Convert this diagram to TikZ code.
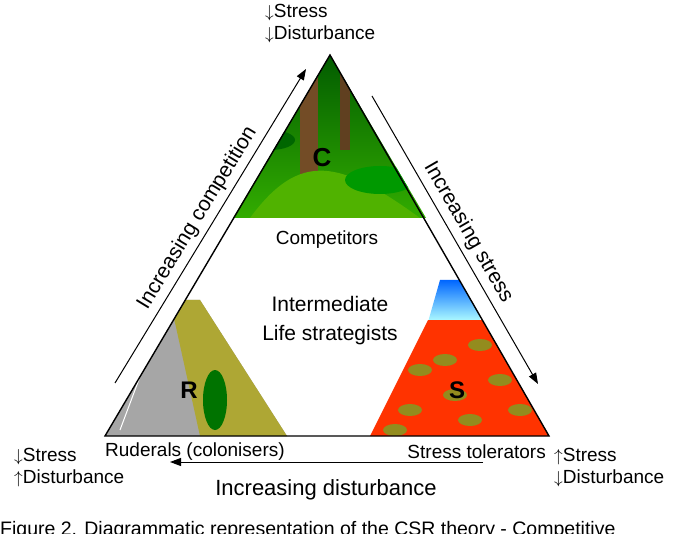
\documentclass[tikz,border=0pt]{standalone}
\usepackage{fontspec}
\setmainfont{Liberation Sans}
\usetikzlibrary{arrows.meta}
\begin{document}
\begin{tikzpicture}[x=1pt,y=-1pt,
  lbl/.style={font=\fontsize{19}{22}\selectfont,align=left,anchor=west,inner sep=0pt},
  arr/.style={-{Triangle[length=11pt,width=8pt]},line width=1pt},
  big/.style={font=\fontsize{21}{25}\selectfont,inner sep=0pt},
  mid/.style={font=\fontsize{19}{22}\selectfont,inner sep=0pt}]
\useasboundingbox (0,0) rectangle (682,534);
\fill[white] (0,0) rectangle (682,534);
% C region
\begin{scope}
\clip (330,55) -- (233,218) -- (426,218) -- cycle;
\shade[top color=green!35!black, bottom color=green!60!black!80!yellow] (230,50) rectangle (430,220);
\fill[brown!60!black] (300,55) rectangle (318,180);
\fill[brown!50!black] (340,55) rectangle (350,150);
\fill[green!55!yellow!70!black] (250,218) .. controls (300,150) and (340,160) .. (420,218) -- cycle;
\fill[green!40!black] (270,140) ellipse (25 and 10);
\fill[green!60!black] (380,180) ellipse (35 and 14);
\end{scope}
% R and S regions
\begin{scope}
\clip (330,55) -- (105,436) -- (549,436) -- cycle;
\fill[gray!70] (100,300) -- (200,300) -- (287,436) -- (100,436) -- cycle;
\fill[olive!60!yellow!70!gray] (170,300) -- (200,300) -- (287,436) -- (200,436) -- cycle;
\fill[green!45!black] (215,400) ellipse (12 and 30);
\draw[white,line width=1pt] (165,310) -- (120,430);
\shade[top color=blue!60!cyan, bottom color=cyan!30] (440,280) -- (480,280) -- (480,322) -- (428,322) -- cycle;
\fill[red!60!orange] (428,320) -- (560,320) -- (560,436) -- (370,436) -- cycle;
\foreach \p in {(420,370),(445,360),(480,345),(500,380),(410,410),(470,420),(520,410),(395,430),(455,395)}
  \fill[olive!70!yellow!80!black] \p ellipse (12 and 6);
\end{scope}
\draw[line width=1.4pt] (330,55) coordinate (T) -- (105,436) coordinate (L) -- (549,436) coordinate (R) -- cycle;
\node[font=\bfseries\fontsize{26}{28}\selectfont] (c) at (322,158) {C};
\node[font=\bfseries\fontsize{24}{28}\selectfont] (r) at (189,390) {R};
\node[font=\bfseries\fontsize{24}{28}\selectfont] (s) at (457,390) {S};
\node[mid] (comp) at (327,240) {Competitors};
\node[big,align=center] (int) at (330,321) {Intermediate\\[4pt]Life strategists};
\node[mid,anchor=west] (rud) at (105,452) {Ruderals (colonisers)};
\node[mid,anchor=east] (st) at (546,452) {Stress tolerators};
\node[lbl] (tl) at (265,24) {$\downarrow$Stress\\$\downarrow$Disturbance};
\node[lbl] (bl) at (14,468) {$\downarrow$Stress\\$\uparrow$Disturbance};
\node[lbl] (br) at (554,468) {$\uparrow$Stress\\$\downarrow$Disturbance};
\coordinate (a1) at (115,383); \coordinate (a2) at (306,69);
\draw[arr] (a1) -- (a2) node[midway,sloped,above=5pt,big] {Increasing competition};
\coordinate (b1) at (372,96); \coordinate (b2) at (538,384);
\draw[arr] (b1) -- (b2) node[midway,sloped,above=5pt,big] {Increasing stress};
\coordinate (d1) at (483,462); \coordinate (d2) at (170,462);
\draw[arr] (d1) -- (d2);
\node[big,font=\fontsize{22}{25}\selectfont] (dist) at (326,490) {Increasing disturbance};
\begin{scope}
\clip (0,505) rectangle (682,534);
\node[font=\fontsize{19.5}{22}\selectfont,anchor=north west,inner sep=0pt] (cap) at (0,521) {Figure 2. Diagrammatic representation of the CSR theory - Competitive};
\end{scope}
\end{tikzpicture}
\end{document}
